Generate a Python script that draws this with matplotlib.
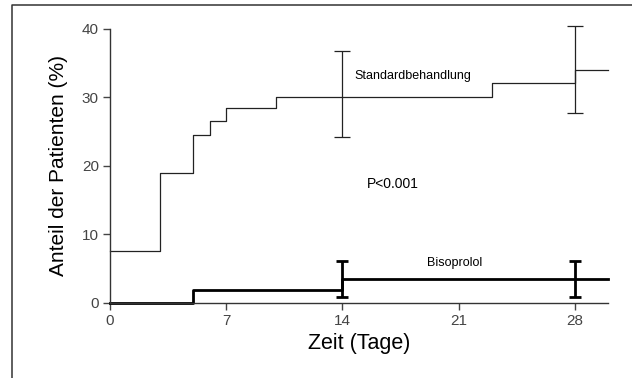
import matplotlib.pyplot as plt
from matplotlib.lines import Line2D
import numpy as np

# ── Data ─────────────────────────────────────────────────────────────────────
std_days = [0, 3, 5, 6, 7, 10, 23, 28, 30]
std_pct = [7.6, 18.9, 24.5, 26.5, 28.4, 30.1, 32.1, 34.0, 34.0]
std_err_days = [14, 28]
std_err_mid = [30.1, 32.1]
std_err_low = [24.2, 27.7]
std_err_high = [36.8, 40.5]

biso_days = [0, 5, 14, 30]
biso_pct = [0.0, 1.9, 3.4, 3.4]
biso_err_days = [14, 28]
biso_err_mid = [3.4, 3.4]
biso_err_low = [0.9, 0.9]
biso_err_high = [6.1, 6.1]

x_ticks = [0, 7, 14, 21, 28]
y_ticks = [0, 10, 20, 30, 40]

plt.rcParams["font.family"] = ["Liberation Sans", "DejaVu Sans"]

W, H = 632, 378
fig = plt.figure(figsize=(W / 100, H / 100), dpi=100)
fig.patch.set_facecolor("white")
ax = fig.add_axes([110 / W, (H - 302.7) / H, (608 - 110) / W, (302.7 - 29) / H])

# outer frame (only top and left edges visible in the crop)
fig.add_artist(Line2D([12 / W, 12 / W, 1.0], [0.0, 1 - 5 / H, 1 - 5 / H],
                      transform=fig.transFigure, color="#333333", lw=1.1))


def unclip(container):
    for child in container.get_children():
        child.set_clip_on(False)


# Standard treatment curve
ax.step(std_days, std_pct, where="post", color="#222222", lw=0.9, clip_on=False)
mid = np.array(std_err_mid)
eb = ax.errorbar(std_err_days, mid,
                 yerr=[mid - np.array(std_err_low), np.array(std_err_high) - mid],
                 fmt="none", ecolor="#222222", elinewidth=0.9, capsize=5.5, capthick=0.9)
unclip(eb)

# Bisoprolol curve
ax.step(biso_days, biso_pct, where="post", color="black", lw=2.0, clip_on=False)
bmid = np.array(biso_err_mid)
eb = ax.errorbar(biso_err_days, bmid,
                 yerr=[bmid - np.array(biso_err_low), np.array(biso_err_high) - bmid],
                 fmt="none", ecolor="black", elinewidth=2.0, capsize=4, capthick=2.0)
unclip(eb)

# annotations
ax.text(14.7, 33.1, "Standardbehandlung", fontsize=9, ha="left", va="center")
ax.text(15.5, 17.3, "P<0.001", fontsize=10, ha="left", va="center")
ax.text(19.1, 5.8, "Bisoprolol", fontsize=9, ha="left", va="center")

ax.set_xlim(0, 30)
ax.set_ylim(0, 40)
ax.set_xticks(x_ticks)
ax.set_yticks(y_ticks)
ax.tick_params(direction="out", length=5, width=1, color="#444444",
               labelcolor="#444444", labelsize=11, pad=3)

for side in ("top", "right"):
    ax.spines[side].set_visible(False)
for side in ("left", "bottom"):
    ax.spines[side].set_color("#333333")
    ax.spines[side].set_linewidth(1)

ax.set_xlabel("Zeit (Tage)", fontsize=15.5, labelpad=4)
ax.set_ylabel("Anteil der Patienten (%)", fontsize=15, labelpad=10)

fig.savefig("out.png", dpi=100, facecolor=fig.get_facecolor())
